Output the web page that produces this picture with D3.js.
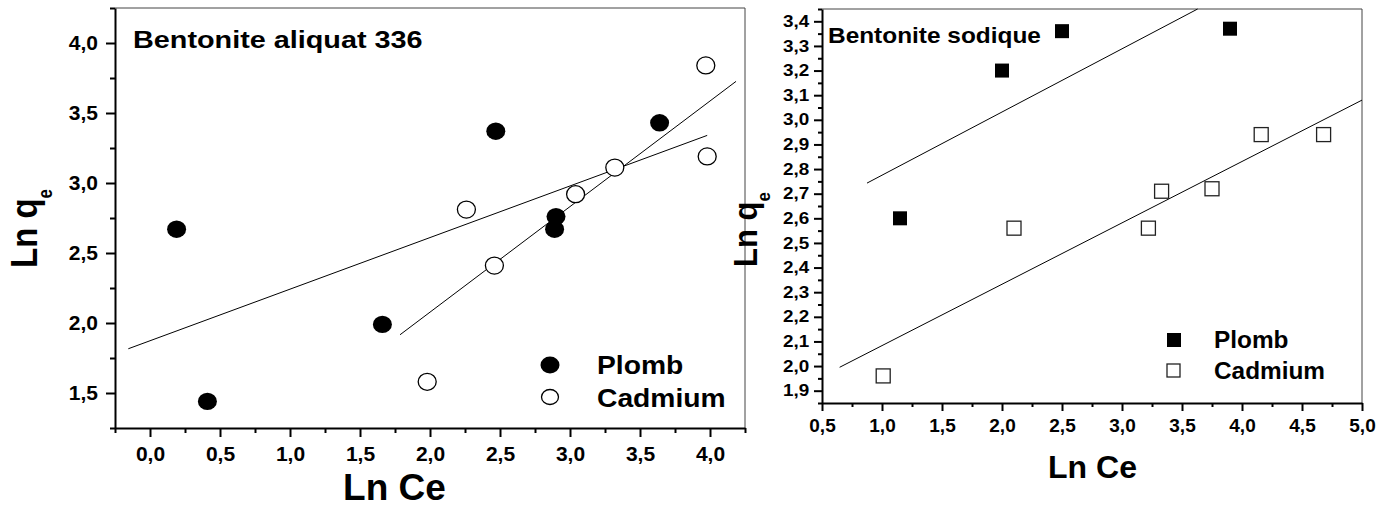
<!DOCTYPE html>
<html>
<head>
<meta charset="utf-8">
<script src="https://cdn.jsdelivr.net/npm/d3@7"></script>
<style>
  body { margin: 0; background: #fff; }
  svg text { font-family: "Liberation Sans", Arial, sans-serif; font-weight: bold; fill: #000; }
  .fit { fill: none; stroke: #000; stroke-width: 1; }
  .frame { stroke: #444; stroke-width: 1; }
</style>
</head>
<body>
<div id="chart"></div>
<script>
// ---- data : Bentonite aliquat 336 (left) ----
var pbAliquatX = [0.19, 0.41, 1.66, 2.47, 2.90, 2.89, 3.64];
var pbAliquatY = [2.67, 1.44, 1.99, 3.37, 2.76, 2.67, 3.43];
var cdAliquatX = [1.98, 2.26, 2.46, 3.04, 3.32, 3.97, 3.98];
var cdAliquatY = [1.58, 2.81, 2.41, 2.92, 3.11, 3.84, 3.19];
var fitAliquatAX = [-0.155, 3.98];
var fitAliquatAY = [1.816, 3.34];
var fitAliquatBX = [1.786, 4.186];
var fitAliquatBY = [1.916, 3.726];

// ---- data : Bentonite sodique (right) ----
var pbSodiqueX = [1.15, 2.00, 2.50, 3.90];
var pbSodiqueY = [2.60, 3.20, 3.36, 3.37];
var cdSodiqueX = [1.01, 2.10, 3.22, 3.33, 3.75, 4.16, 4.68];
var cdSodiqueY = [1.96, 2.56, 2.56, 2.71, 2.72, 2.94, 2.94];
var fitSodiqueAX = [0.875, 3.63];
var fitSodiqueAY = [2.743, 3.45];
var fitSodiqueBX = [0.647, 5.0];
var fitSodiqueBY = [1.995, 3.08];

// ---- ticks / labels ----
var leftXTicks = [0.0, 0.5, 1.0, 1.5, 2.0, 2.5, 3.0, 3.5, 4.0];
var leftYTicks = [1.5, 2.0, 2.5, 3.0, 3.5, 4.0];
var rightXTicks = [0.5, 1.0, 1.5, 2.0, 2.5, 3.0, 3.5, 4.0, 4.5, 5.0];
var rightYTicks = [1.9, 2.0, 2.1, 2.2, 2.3, 2.4, 2.5, 2.6, 2.7, 2.8, 2.9, 3.0, 3.1, 3.2, 3.3, 3.4];
var seriesNames = ["Plomb", "Cadmium"];
var leftTitle = "Bentonite aliquat 336";
var rightTitle = "Bentonite sodique";
var xTitle = "Ln Ce";

var fmt = function(d) { return d3.format(".1f")(d).replace(".", ","); };
function zip(xs, ys) { return xs.map(function(x, i) { return {x: x, y: ys[i]}; }); }

var svg = d3.select("#chart").append("svg")
            .attr("width", 1390)
            .attr("height", 507);

function label(txt, x, y, size, sx, anchor) {
  return svg.append("text")
            .attr("transform", "translate(" + x + "," + y + ") scale(" + sx + ",1)")
            .attr("font-size", size)
            .attr("text-anchor", anchor || "start")
            .text(txt);
}

function yTitle(x, y, size, subSize, subDy, sx) {
  var t = svg.append("text")
             .attr("transform", "translate(" + x + "," + y + ") rotate(-90) scale(1," + sx + ")")
             .attr("font-size", size);
  t.append("tspan").text("Ln q");
  t.append("tspan").attr("font-size", subSize).attr("dy", subDy).text("e");
}

function styleAxis(g, size) {
  g.attr("font-size", size).attr("font-family", null);
  g.select(".domain").attr("stroke-width", 2);
  g.selectAll(".tick line").attr("stroke-width", 2);
}

function drawPanel(p) {
  // frame top + right
  svg.append("line").attr("class", "frame")
     .attr("x1", p.x.range()[0]).attr("x2", p.x.range()[1])
     .attr("y1", p.y.range()[1]).attr("y2", p.y.range()[1]);
  svg.append("line").attr("class", "frame")
     .attr("x1", p.x.range()[1]).attr("x2", p.x.range()[1])
     .attr("y1", p.y.range()[0]).attr("y2", p.y.range()[1]);

  // minor ticks
  svg.append("g")
     .attr("transform", "translate(0," + p.y.range()[0] + ")")
     .call(d3.axisBottom(p.x).tickValues(p.xMinor).tickFormat("").tickSize(p.minorLen).tickSizeOuter(0))
     .call(function(g) { g.select(".domain").remove(); g.selectAll("line").attr("stroke-width", 2); });
  svg.append("g")
     .attr("transform", "translate(" + p.x.range()[0] + ",0)")
     .call(d3.axisLeft(p.y).tickValues(p.yMinor).tickFormat("").tickSize(p.minorLen).tickSizeOuter(0))
     .call(function(g) { g.select(".domain").remove(); g.selectAll("line").attr("stroke-width", 2); });

  // major axes
  var gx = svg.append("g")
              .attr("transform", "translate(0," + p.y.range()[0] + ")")
              .call(d3.axisBottom(p.x).tickValues(p.xTicks).tickFormat(fmt)
                      .tickSize(p.majorLen).tickPadding(p.xPad).tickSizeOuter(0));
  styleAxis(gx, p.xFont);
  var gy = svg.append("g")
              .attr("transform", "translate(" + p.x.range()[0] + ",0)")
              .call(d3.axisLeft(p.y).tickValues(p.yTicks).tickFormat(fmt)
                      .tickSize(p.majorLen).tickPadding(p.yPad).tickSizeOuter(0));
  styleAxis(gy, p.yFont);
  if (p.yStretch != 1) {
    gy.selectAll("text")
      .attr("x", -(p.majorLen + p.yPad) / p.yStretch)
      .attr("transform", "scale(" + p.yStretch + ",1)");
  }

  // fit lines
  var line = d3.line().x(function(d) { return p.x(d.x); }).y(function(d) { return p.y(d.y); });
  p.fits.forEach(function(f) {
    svg.append("path").datum(f).attr("class", "fit").attr("d", line);
  });
}

//-------------------LEFT : Bentonite aliquat 336-------------------------------
var left = {
  x: d3.scaleLinear().domain([-0.25, 4.25]).range([115, 745]),
  y: d3.scaleLinear().domain([1.25, 4.25]).range([428, 8]),
  xTicks: leftXTicks, yTicks: leftYTicks,
  xMinor: d3.range(-0.25, 4.3, 0.5), yMinor: d3.range(1.25, 4.3, 0.5),
  majorLen: 9, minorLen: 5, xPad: 9, yPad: 8, xFont: 21, yFont: 21, yStretch: 1,
  fits: [zip(fitAliquatAX, fitAliquatAY), zip(fitAliquatBX, fitAliquatBY)]
};
drawPanel(left);

svg.append("g").selectAll("ellipse")
   .data(zip(pbAliquatX, pbAliquatY)).enter().append("ellipse")
   .attr("cx", function(d) { return left.x(d.x); })
   .attr("cy", function(d) { return left.y(d.y); })
   .attr("rx", 9.5).attr("ry", 8.7)
   .attr("fill", "#000");
svg.append("g").selectAll("ellipse")
   .data(zip(cdAliquatX, cdAliquatY)).enter().append("ellipse")
   .attr("cx", function(d) { return left.x(d.x); })
   .attr("cy", function(d) { return left.y(d.y); })
   .attr("rx", 9).attr("ry", 8.5)
   .attr("fill", "#fff").attr("stroke", "#000").attr("stroke-width", 1.3);

// legend
svg.append("ellipse").attr("cx", 550).attr("cy", 365).attr("rx", 9.5).attr("ry", 8.5).attr("fill", "#000");
svg.append("ellipse").attr("cx", 550).attr("cy", 397).attr("rx", 8.5).attr("ry", 7.5)
   .attr("fill", "#fff").attr("stroke", "#000").attr("stroke-width", 1.3);
label(seriesNames[0], 597, 374, 25, 1.13);
label(seriesNames[1], 597, 407, 25, 1.13);

label(leftTitle, 133, 48, 24, 1.2);
label(xTitle, 394.5, 500, 37, 1, "middle");
yTitle(37, 268, 33, 17, 13, 1.14);

//-------------------RIGHT : Bentonite sodique----------------------------------
var right = {
  x: d3.scaleLinear().domain([0.5, 5.0]).range([822, 1362]),
  y: d3.scaleLinear().domain([1.85, 3.45]).range([403, 9]),
  xTicks: rightXTicks, yTicks: rightYTicks,
  xMinor: d3.range(0.75, 5.0, 0.5), yMinor: d3.range(1.85, 3.46, 0.1),
  majorLen: 8, minorLen: 4, xPad: 7.5, yPad: 4.7, xFont: 19, yFont: 16, yStretch: 1.18,
  fits: [zip(fitSodiqueAX, fitSodiqueAY), zip(fitSodiqueBX, fitSodiqueBY)]
};
drawPanel(right);

svg.append("g").selectAll("rect")
   .data(zip(pbSodiqueX, pbSodiqueY)).enter().append("rect")
   .attr("x", function(d) { return right.x(d.x) - 7; })
   .attr("y", function(d) { return right.y(d.y) - 7; })
   .attr("width", 14).attr("height", 14)
   .attr("fill", "#000");
svg.append("g").selectAll("rect")
   .data(zip(cdSodiqueX, cdSodiqueY)).enter().append("rect")
   .attr("x", function(d) { return right.x(d.x) - 7; })
   .attr("y", function(d) { return right.y(d.y) - 7; })
   .attr("width", 14).attr("height", 14)
   .attr("fill", "#fff").attr("stroke", "#222").attr("stroke-width", 1.3);

// legend
svg.append("rect").attr("x", 1167).attr("y", 333).attr("width", 14).attr("height", 14).attr("fill", "#000");
svg.append("rect").attr("x", 1167).attr("y", 364).attr("width", 13).attr("height", 13)
   .attr("fill", "#fff").attr("stroke", "#222").attr("stroke-width", 1.3);
label(seriesNames[0], 1214, 348, 23, 1.06);
label(seriesNames[1], 1214, 379, 23, 1.06);

label(rightTitle, 828, 43, 22, 1.11);
label(xTitle, 1092.5, 478, 32, 1, "middle");
yTitle(757, 267, 31, 17, 12, 1.07);
</script>
</body>
</html>
